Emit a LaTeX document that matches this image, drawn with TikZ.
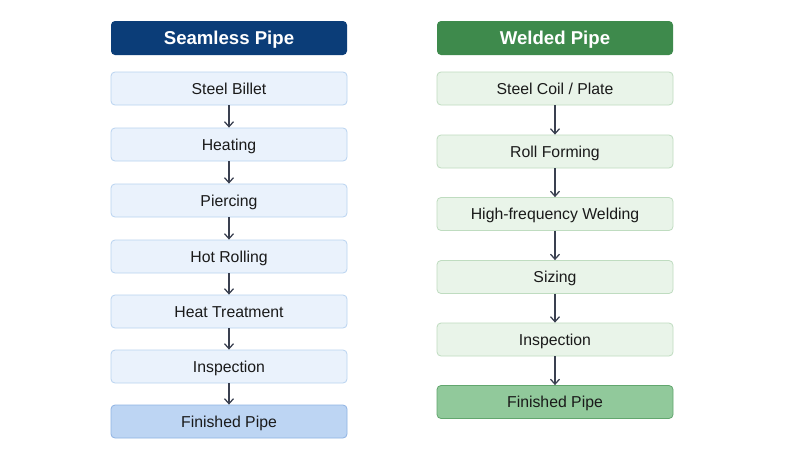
\documentclass[tikz,border=0pt]{standalone}
\usepackage{fontspec}
\setmainfont{Liberation Sans}
\usetikzlibrary{arrows.meta}
\definecolor{lhead}{HTML}{0B3D78}
\definecolor{rhead}{HTML}{3E8A4C}
\definecolor{lfill}{HTML}{EAF2FC}
\definecolor{ldraw}{HTML}{B9D3F0}
\definecolor{lfin}{HTML}{BDD5F3}
\definecolor{lfindraw}{HTML}{8FB3E3}
\definecolor{rfill}{HTML}{E9F4E9}
\definecolor{rdraw}{HTML}{BFDCC0}
\definecolor{rfin}{HTML}{91C99B}
\definecolor{rfindraw}{HTML}{62A66E}
\definecolor{arr}{HTML}{3A4050}
\definecolor{txt}{HTML}{1A1A1A}
\tikzset{
  box/.style={rounded corners=4pt, minimum width=236pt, minimum height=33pt, inner sep=0pt, line width=0.8pt, font=\fontsize{15.8}{18}\selectfont, text=txt, text height=11.4pt, text depth=0pt},
  headbox/.style={box, minimum height=34pt, font=\fontsize{18.6}{21}\selectfont\bfseries, text=white, text height=13.4pt, text depth=0pt},
  lstep/.style={box, fill=lfill, draw=ldraw},
  lfinal/.style={box, fill=lfin, draw=lfindraw},
  rstep/.style={box, fill=rfill, draw=rdraw},
  rfinal/.style={box, fill=rfin, draw=rfindraw},
  flow/.style={draw=arr, line width=1.25pt, -{Straight Barb[length=5pt,width=9pt]}}
}
\begin{document}
\begin{tikzpicture}[x=1pt,y=-1pt]
\useasboundingbox (0,0) rectangle (800,466);
\fill[white] (0,0) rectangle (800,466);
% left column
\node[headbox, fill=lhead] (lh) at (229,38) {Seamless Pipe};
\node[lstep] (l1) at (229,88.5) {Steel Billet};
\node[lstep] (l2) at (229,144.5) {Heating};
\node[lstep] (l3) at (229,200.5) {Piercing};
\node[lstep] (l4) at (229,256.5) {Hot Rolling};
\node[lstep] (l5) at (229,311.5) {Heat Treatment};
\node[lstep] (l6) at (229,366.5) {Inspection};
\node[lfinal] (l7) at (229,421.5) {Finished Pipe};
\foreach \a/\b in {l1/l2,l2/l3,l3/l4,l4/l5,l5/l6,l6/l7}
  \draw[flow] (\a.south) -- (\b.north);
% right column
\node[headbox, fill=rhead] (rh) at (555,38) {Welded Pipe};
\node[rstep] (r1) at (555,88.5) {Steel Coil / Plate};
\node[rstep] (r2) at (555,151.5) {Roll Forming};
\node[rstep] (r3) at (555,214) {High-frequency Welding};
\node[rstep] (r4) at (555,277) {Sizing};
\node[rstep] (r5) at (555,339.5) {Inspection};
\node[rfinal] (r6) at (555,402) {Finished Pipe};
\foreach \a/\b in {r1/r2,r2/r3,r3/r4,r4/r5,r5/r6}
  \draw[flow] (\a.south) -- (\b.north);
\end{tikzpicture}
\end{document}
